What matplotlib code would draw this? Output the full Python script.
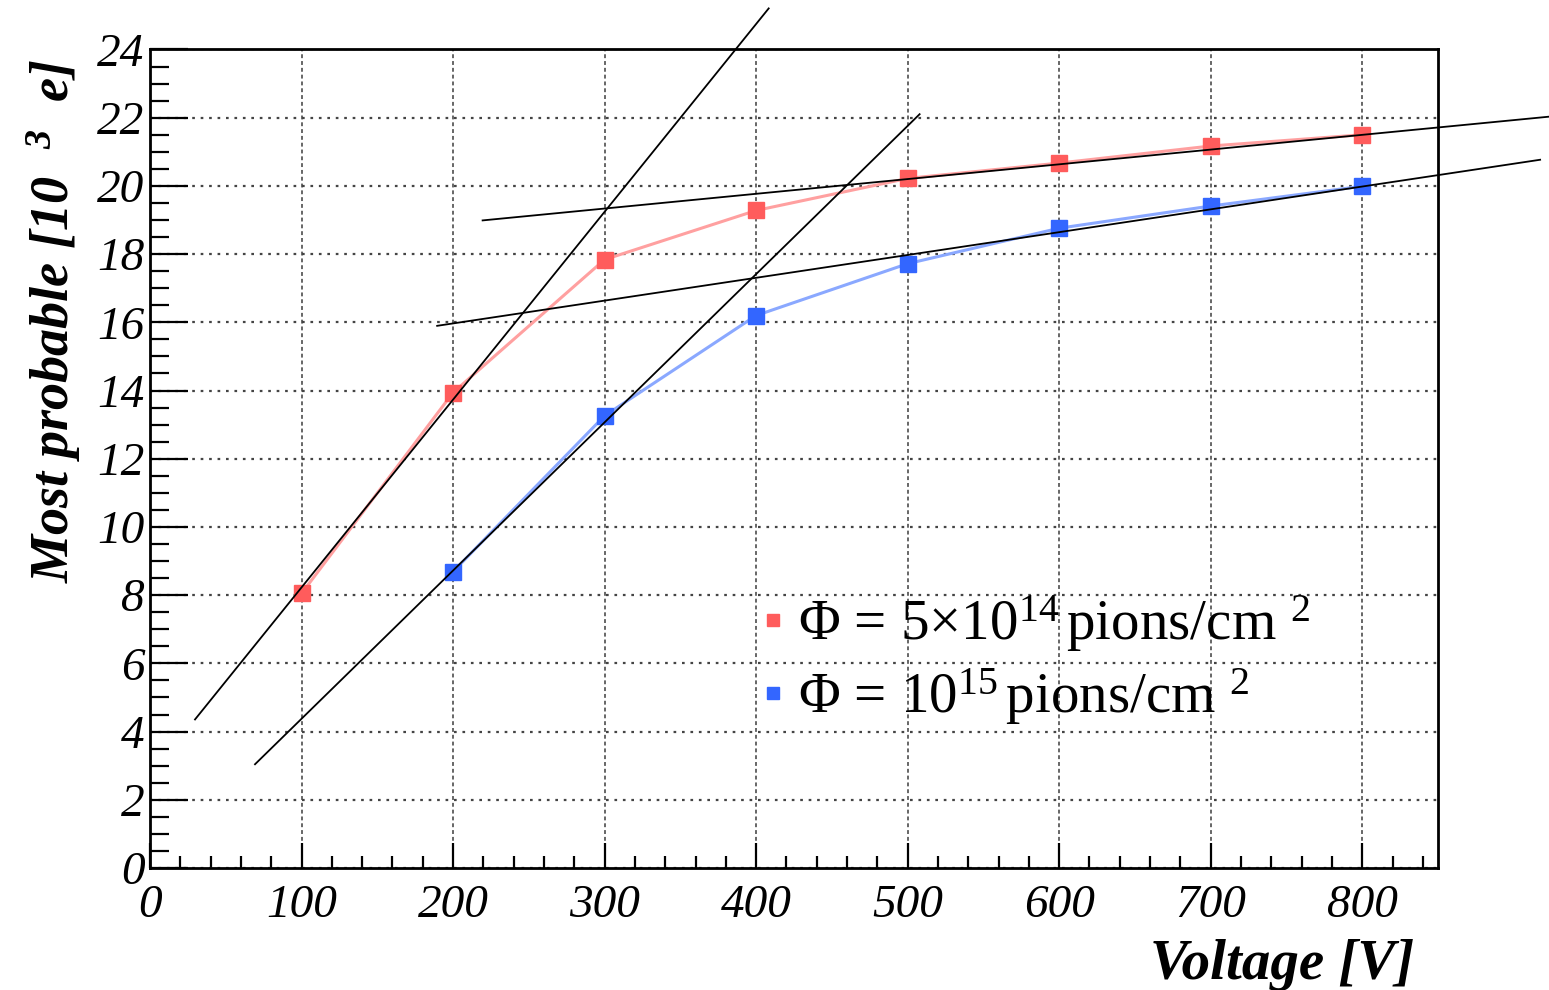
import numpy as np
import matplotlib
matplotlib.use('Agg')
import matplotlib.pyplot as plt
from matplotlib.lines import Line2D
from matplotlib.ticker import MultipleLocator

### data: most probable signal vs bias voltage
voltage_lo = [100, 200, 300, 400, 500, 600, 700, 800]
mpv_lo = [8.05, 13.94, 17.84, 19.28, 20.22, 20.67, 21.17, 21.50]
voltage_hi = [200, 300, 400, 500, 600, 700, 800]
mpv_hi = [8.69, 13.26, 16.20, 17.72, 18.76, 19.41, 19.99]
labels = [r'$\Phi$ = 5$\times$10$^{14}$$\,$pions/cm $^{2}$',
          r'$\Phi$ = 10$^{15}$$\,$pions/cm $^{2}$']

### straight-line fits: (slope, intercept, x start, x end)
fit_slope = [0.05507, 0.04346, 0.004322, 0.00669]
fit_icept = [2.72, 0.03, 18.04, 14.63]
fit_xmin = [29.7, 69.3, 219.5, 189.5]
fit_xmax = [408.3, 507.9, 922.8, 917.4]

red_mark = '#ff5c5c'
red_line = '#ffa0a0'
blue_mark = '#3366ff'
blue_line = '#8aa8ff'

plt.rcParams['font.family'] = 'Liberation Serif'
plt.rcParams['mathtext.fontset'] = 'custom'
plt.rcParams['mathtext.rm'] = 'Liberation Serif'
plt.rcParams['mathtext.it'] = 'Liberation Serif:italic'
plt.rcParams['mathtext.bf'] = 'Liberation Serif:bold'
plt.rcParams['mathtext.default'] = 'regular'

### figure and frame
fig = plt.figure(figsize=(15.49, 9.9), dpi=100)
ax = fig.add_axes([150/1549, 1 - 868/990, 1288/1549, 818.5/990])
ax.set_xlim(0, 850)
ax.set_ylim(0, 24)

for sp in ax.spines.values():
    sp.set_linewidth(2.0)

ax.xaxis.set_major_locator(MultipleLocator(100))
ax.xaxis.set_minor_locator(MultipleLocator(20))
ax.yaxis.set_major_locator(MultipleLocator(2))
ax.yaxis.set_minor_locator(MultipleLocator(0.5))

ax.tick_params(axis='x', which='major', direction='in', length=18, width=1.6, pad=12)
ax.tick_params(axis='x', which='minor', direction='in', length=9, width=1.6)
ax.tick_params(axis='y', which='major', direction='in', length=27, width=1.6, pad=4)
ax.tick_params(axis='y', which='minor', direction='in', length=14, width=1.6)
ax.tick_params(top=False, right=False, which='both')

for lab in ax.get_xticklabels() + ax.get_yticklabels():
    lab.set_fontstyle('italic')
    lab.set_fontsize(34)

### grid
ax.grid(axis='y', which='major', color='#444444', linestyle=(0, (1.2, 2.6)), linewidth=1.6)
ax.grid(axis='x', which='major', color='#666666', linestyle=(0, (2.0, 1.5)), linewidth=1.4)
ax.set_axisbelow(True)

### data series
ax.plot(voltage_lo, mpv_lo, color=red_line, linewidth=2.2, zorder=3)
ax.plot(voltage_lo, mpv_lo, linestyle='none', marker='s', markersize=11.5,
        color=red_mark, zorder=4)
ax.plot(voltage_hi, mpv_hi, color=blue_line, linewidth=2.2, zorder=3)
ax.plot(voltage_hi, mpv_hi, linestyle='none', marker='s', markersize=11.5,
        color=blue_mark, zorder=4)

### fit lines, drawn past the frame
for k in range(len(fit_slope)):
    xs = np.array([fit_xmin[k], fit_xmax[k]])
    ax.plot(xs, fit_slope[k] * xs + fit_icept[k], color='black', linewidth=1.3,
            clip_on=False, zorder=5)

### legend
handles = [Line2D([], [], linestyle='none', marker='s', markersize=8, color=red_mark),
           Line2D([], [], linestyle='none', marker='s', markersize=8, color=blue_mark)]
ax.legend(handles, labels, loc='upper left', bbox_to_anchor=(0.452, 0.37),
          frameon=False, prop={'size': 41}, handlelength=0.45, handletextpad=0.2,
          labelspacing=0.2, borderpad=0.0)

### axis titles
ax.set_xlabel('Voltage [V]', fontsize=41, fontweight='bold', fontstyle='italic', loc='right')
ax.xaxis.set_label_coords(0.982, -0.087)
ax.set_ylabel(r'Most probable [10  $^{3}$  e]', fontsize=39, fontweight='bold',
              fontstyle='italic', loc='top')
ax.yaxis.set_label_coords(-0.052, 0.988)

plt.savefig('out.png', dpi=100)
